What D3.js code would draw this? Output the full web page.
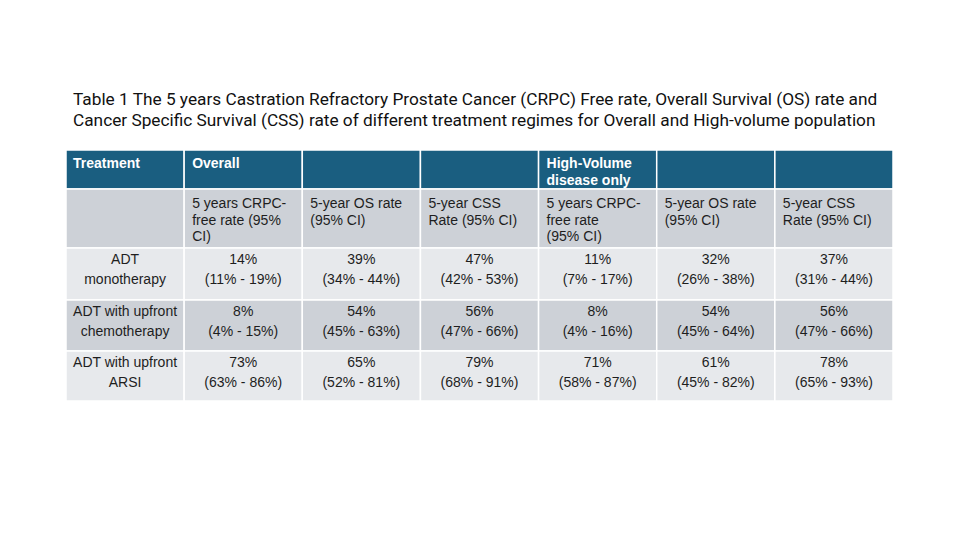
<!DOCTYPE html>
<html>
<head>
    <meta charset="utf-8">
    <style>
        body { margin: 0; background: #fff; }
        svg { display: block; }
    </style>
</head>
<body>
    <svg width="960" height="540"></svg>

<script src="https://d3js.org/d3.v7.min.js"></script>
<script>
    // table content
    let titleLines = [
        "Table 1 The 5 years Castration Refractory Prostate Cancer (CRPC) Free rate, Overall Survival (OS) rate and",
        "Cancer Specific Survival (CSS) rate of different treatment regimes for Overall and High-volume population"
    ]

    let groupHeaders = [["Treatment"], ["Overall"], [], [], ["High-Volume", "disease only"], [], []]

    let metricHeaders = [
        [],
        ["5 years CRPC-", "free rate (95%", "CI)"],
        ["5-year OS rate", "(95% CI)"],
        ["5-year CSS", "Rate (95% CI)"],
        ["5 years CRPC-", "free rate", "(95% CI)"],
        ["5-year OS rate", "(95% CI)"],
        ["5-year CSS", "Rate (95% CI)"]
    ]

    let treatments = [
        ["ADT", "monotherapy"],
        ["ADT with upfront", "chemotherapy"],
        ["ADT with upfront", "ARSI"]
    ]

    // 6 values per treatment: overall CRPC, OS, CSS, then high-volume CRPC, OS, CSS
    let rates = [
        [14, 39, 47, 11, 32, 37],
        [8, 54, 56, 8, 54, 56],
        [73, 65, 79, 71, 61, 78]
    ]
    let ciLow = [
        [11, 34, 42, 7, 26, 31],
        [4, 45, 47, 4, 45, 47],
        [63, 52, 68, 58, 45, 65]
    ]
    let ciHigh = [
        [19, 44, 53, 17, 38, 44],
        [15, 63, 66, 16, 64, 66],
        [86, 81, 91, 87, 82, 93]
    ]

    // layout
    let left = 66, right = 893
    let rowEdges = [150, 189, 248, 300, 351, 401]
    let rowFills = ["#1a5e80", "#cdd1d7", "#e7e9ec", "#cdd1d7", "#e7e9ec"]
    let font = "'Liberation Sans', Arial, Helvetica, sans-serif"

    let svg = d3.select("svg")

    let x = d3.scaleBand()
        .domain(d3.range(7))
        .range([left, right])

    // title, sized so the first line spans the same width as the picture
    let title = svg.append("g")
        .attr("font-family", "Roboto, 'Open Sans', sans-serif")
        .attr("fill", "#111")

    let tLines = title.selectAll("text")
        .data(titleLines)
        .join("text")
        .attr("x", 73)
        .attr("y", (d, i) => 105 + i * 20.7)
        .style("font-size", "17px")
        .text(d => d)

    let w0 = tLines.node().getComputedTextLength()
    tLines.style("font-size", (17 * 805 / w0) + "px")

    // build rows of cells
    let rows = []
    rows.push(groupHeaders.map(d => ({ lines: d, align: "start" })))
    rows.push(metricHeaders.map(d => ({ lines: d, align: "start" })))
    treatments.forEach((t, r) => {
        let cells = [{ lines: t, align: "middle" }]
        rates[r].forEach((v, c) => {
            cells.push({
                lines: [v + "%", "(" + ciLow[r][c] + "% - " + ciHigh[r][c] + "%)"],
                align: "middle"
            })
        })
        rows.push(cells)
    })

    let lineOffset = [18, 19, 16, 16, 16]
    let lineGap = [17, 16.6, 20, 19.5, 19.5]

    let rowG = svg.selectAll(".row")
        .data(rows)
        .join("g")
        .attr("class", "row")

    let cellG = rowG.selectAll(".cell")
        .data((d, r) => d.map((c, i) => ({ ...c, r: r, c: i })))
        .join("g")
        .attr("class", "cell")

    cellG.append("rect")
        .attr("x", d => x(d.c))
        .attr("y", d => rowEdges[d.r])
        .attr("width", x.bandwidth())
        .attr("height", d => rowEdges[d.r + 1] - rowEdges[d.r])
        .style("fill", d => rowFills[d.r])
        .style("stroke", "#fff")
        .style("stroke-width", 1.5)

    cellG.append("text")
        .attr("font-family", font)
        .style("font-size", "14px")
        .style("font-weight", d => d.r == 0 ? "bold" : "normal")
        .style("fill", d => d.r == 0 ? "#fff" : "#1e1e1e")
        .attr("text-anchor", d => d.align)
        .selectAll("tspan")
        .data(d => d.lines.map((l, k) => ({ l: l, k: k, p: d })))
        .join("tspan")
        .attr("x", d => d.p.align == "middle" ? x(d.p.c) + x.bandwidth() / 2 : x(d.p.c) + (d.p.c == 0 ? 7 : 8))
        .attr("y", d => rowEdges[d.p.r] + lineOffset[d.p.r] + d.k * lineGap[d.p.r])
        .text(d => d.l)
</script>
</body>
</html>
